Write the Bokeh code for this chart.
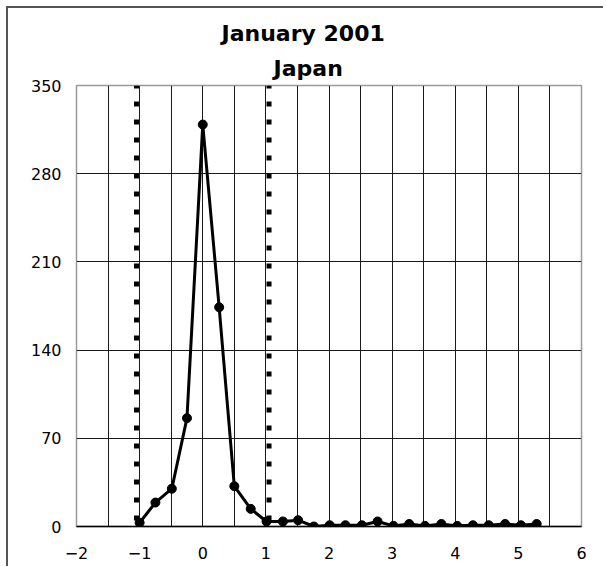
from bokeh.plotting import figure
from bokeh.models import Range1d, SingleIntervalTicker, FixedTicker, Span, Title
from bokeh.embed import file_html
from bokeh.resources import INLINE

# ---- data ----
title_main = "January 2001"
title_sub = "Japan"
x_vals = [-1.0, -0.75, -0.49, -0.25, 0.0, 0.26, 0.50, 0.76, 1.01, 1.27, 1.51,
          1.76, 2.01, 2.26, 2.52, 2.77, 3.02, 3.27, 3.52, 3.78, 4.03, 4.28,
          4.53, 4.79, 5.04, 5.29]
y_vals = [3, 19, 30, 86, 319, 174, 32, 14, 4, 4, 5,
          0, 1, 1, 1, 4, 0.5, 2, 0.5, 2, 0.5, 1,
          1, 2, 1, 2]
bound_x = [-1.05, 1.05]
x_ticks = [-2, -1, 0, 1, 2, 3, 4, 5, 6]
x_tick_labels = ["\u22122", "\u22121", "0", "1", "2", "3", "4", "5", "6"]
y_ticks = [0, 70, 140, 210, 280, 350]

p = figure(
    output_backend="svg", toolbar_location=None,
    frame_width=505, frame_height=441,
    min_border_left=68, min_border_right=22, min_border_top=77, min_border_bottom=40,
    x_range=Range1d(x_ticks[0], x_ticks[-1]), y_range=Range1d(y_ticks[0], y_ticks[-1]),
    background_fill_color="white", border_fill_color="white",
    styles={"border-left": "2px solid #555", "border-top": "2px solid #555",
            "margin-left": "6px", "margin-top": "6px"},
)
p.title.visible = False

t_sub = Title(text=title_sub, align="left", offset=197, standoff=9,
              text_font="DejaVu Sans", text_font_size="22px", text_font_style="bold",
              text_color="black")
t_main = Title(text=title_main, align="left", offset=145, standoff=7,
               text_font="DejaVu Sans", text_font_size="22px", text_font_style="bold",
               text_color="black")
p.add_layout(t_sub, "above")
p.add_layout(t_main, "above")

p.outline_line_color = "#9a9a9a"
p.outline_line_width = 1.5

# axes
p.xaxis.ticker = FixedTicker(ticks=x_ticks)
p.xaxis.major_label_overrides = dict(zip(x_ticks, x_tick_labels))
p.yaxis.ticker = FixedTicker(ticks=y_ticks)
for ax in (p.xaxis[0], p.yaxis[0]):
    ax.major_tick_out = 0
    ax.major_tick_in = 0
    ax.minor_tick_out = 0
    ax.minor_tick_in = 0
    ax.major_label_text_font = "DejaVu Sans"
    ax.major_label_text_font_size = "16px"
    ax.major_label_text_color = "black"
p.xaxis.major_label_standoff = 20
p.yaxis.major_label_standoff = 15
p.xaxis.axis_line_color = "black"
p.xaxis.axis_line_width = 1.5
p.yaxis.axis_line_color = None

# grids
p.xgrid.ticker = SingleIntervalTicker(interval=0.5)
p.ygrid.ticker = SingleIntervalTicker(interval=70)
for g in (p.xgrid[0], p.ygrid[0]):
    g.grid_line_color = "#1a1a1a"
    g.grid_line_width = 1

# dotted boundaries
for bx in bound_x:
    p.add_layout(Span(location=bx, dimension="height", line_color="black",
                      line_width=5, line_dash="5 13", line_dash_offset=2))

# data
p.line(x_vals, y_vals, line_color="black", line_width=3)
p.scatter(x_vals, y_vals, marker="circle", size=9, fill_color="black", line_color="black")

open("out.html", "w").write(file_html(p, INLINE))
